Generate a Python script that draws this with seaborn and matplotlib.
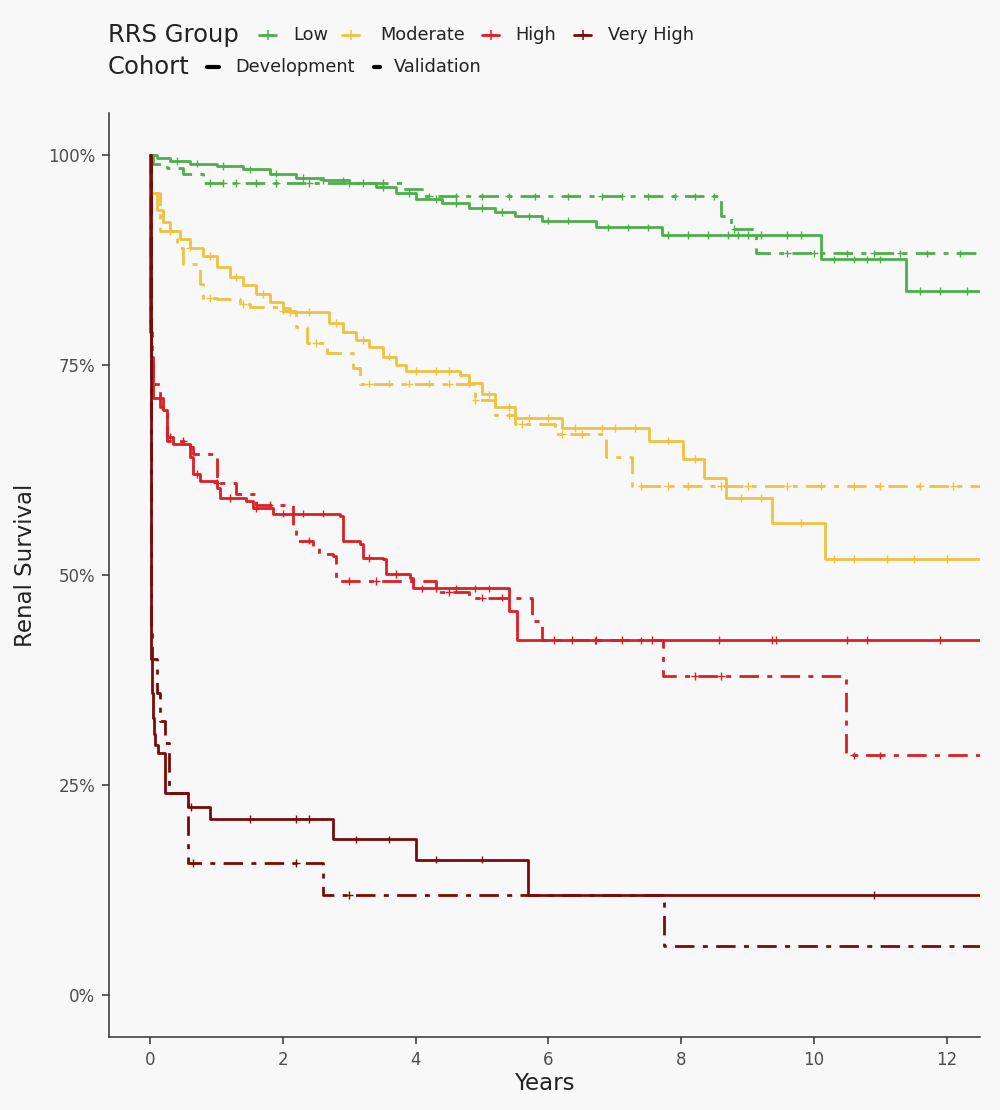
import numpy as np
import pandas as pd
import matplotlib
matplotlib.use("Agg")
import matplotlib.pyplot as plt
from matplotlib.lines import Line2D
from matplotlib.ticker import PercentFormatter
import seaborn as sns

# Kaplan-Meier step points (years, survival)
t_end = 12.5

low_dev_t = [0, 0.1, 0.3, 0.6, 1.0, 1.4, 1.8, 2.2, 2.6, 3.0, 3.4, 3.7, 4.0, 4.4, 4.8, 5.2, 5.5, 5.9, 6.72, 7.71, 10.1, 11.38]
low_dev_s = [1.0, 0.997, 0.993, 0.99, 0.987, 0.983, 0.978, 0.973, 0.97, 0.967, 0.962, 0.955, 0.948, 0.943, 0.937, 0.932, 0.927, 0.922, 0.914, 0.905, 0.876, 0.838]
low_val_t = [0, 0.05, 0.25, 0.5, 0.8, 3.8, 4.1, 8.6, 8.75, 9.13]
low_val_s = [1.0, 0.99, 0.985, 0.978, 0.967, 0.96, 0.951, 0.928, 0.912, 0.883]

mod_dev_t = [0, 0.01, 0.1, 0.2, 0.3, 0.45, 0.6, 0.8, 1.0, 1.2, 1.4, 1.6, 1.8, 2.0, 2.1, 2.7, 2.9, 3.1, 3.3, 3.5, 3.7, 3.85, 4.66, 4.8, 5.0, 5.2, 5.5, 6.2, 7.52, 8.02, 8.35, 8.68, 9.37, 10.17]
mod_dev_s = [1.0, 0.955, 0.935, 0.92, 0.91, 0.90, 0.89, 0.88, 0.867, 0.855, 0.845, 0.835, 0.825, 0.818, 0.813, 0.80, 0.79, 0.78, 0.772, 0.76, 0.75, 0.743, 0.738, 0.729, 0.715, 0.70, 0.687, 0.675, 0.66, 0.638, 0.615, 0.592, 0.562, 0.519]
mod_val_t = [0, 0.01, 0.15, 0.4, 0.5, 0.75, 0.8, 1.0, 1.35, 1.5, 1.95, 2.2, 2.36, 2.66, 3.05, 3.16, 4.9, 5.2, 5.5, 6.1, 6.87, 7.26]
mod_val_s = [1.0, 0.955, 0.91, 0.89, 0.871, 0.847, 0.83, 0.829, 0.823, 0.819, 0.815, 0.795, 0.776, 0.764, 0.747, 0.728, 0.708, 0.69, 0.68, 0.668, 0.64, 0.606]

high_dev_t = [0, 0.005, 0.02, 0.05, 0.2, 0.25, 0.35, 0.6, 0.65, 0.75, 1.0, 1.05, 1.45, 1.55, 1.85, 2.86, 2.9, 3.16, 3.2, 3.5, 3.56, 3.91, 3.96, 5.41, 5.53]
high_dev_s = [1.0, 0.80, 0.76, 0.711, 0.696, 0.664, 0.656, 0.64, 0.62, 0.612, 0.604, 0.592, 0.588, 0.58, 0.573, 0.570, 0.541, 0.537, 0.52, 0.519, 0.501, 0.496, 0.484, 0.457, 0.4225]
high_val_t = [0, 0.005, 0.03, 0.05, 0.15, 0.25, 0.6, 0.65, 1.0, 1.3, 1.6, 2.15, 2.2, 2.45, 2.55, 2.75, 2.8, 4.3, 4.8, 5.75, 5.9, 7.72, 10.48]
high_val_s = [1.0, 0.79, 0.75, 0.728, 0.70, 0.66, 0.652, 0.644, 0.61, 0.596, 0.583, 0.556, 0.541, 0.535, 0.525, 0.523, 0.493, 0.48, 0.473, 0.445, 0.422, 0.38, 0.285]

vh_dev_t = [0, 0.01, 0.03, 0.05, 0.06, 0.075, 0.12, 0.23, 0.57, 0.9, 2.75, 4.0, 5.69]
vh_dev_s = [1.0, 0.40, 0.36, 0.33, 0.31, 0.298, 0.288, 0.24, 0.224, 0.209, 0.185, 0.161, 0.119]
vh_val_t = [0, 0.01, 0.03, 0.1, 0.15, 0.23, 0.28, 0.57, 2.6, 7.74]
vh_val_s = [1.0, 0.44, 0.40, 0.36, 0.326, 0.30, 0.24, 0.157, 0.119, 0.058]

# censoring times (years)
low_dev_c = [0.4, 0.7, 1.1, 1.5, 1.9, 2.3, 2.6, 2.9, 3.2, 3.5, 3.9, 4.3, 4.6, 5.0, 5.3, 5.7, 6.0, 6.3, 6.9, 7.2, 7.5, 7.8, 8.1, 8.4, 8.7, 8.85, 9.0, 9.2, 9.6, 9.8, 10.3, 10.6, 10.8, 11.0, 11.6, 11.9, 12.3]
low_val_c = [0.9, 1.1, 1.3, 1.6, 1.9, 2.4, 3.0, 3.5, 4.2, 4.6, 5.0, 5.4, 5.8, 6.3, 6.8, 7.1, 7.5, 7.9, 8.2, 8.5, 8.8, 9.6, 10.0, 10.5, 10.9, 11.3, 11.7, 12.2]
mod_dev_c = [0.3, 0.6, 0.9, 1.3, 1.7, 2.1, 2.4, 2.8, 3.2, 3.6, 4.0, 4.3, 4.5, 4.8, 5.1, 5.4, 5.7, 6.0, 6.4, 6.8, 7.0, 7.3, 7.8, 8.2, 8.9, 9.2, 9.8, 10.3, 10.6, 11.1, 11.5, 12.0]
mod_val_c = [0.9, 1.4, 2.0, 2.5, 3.3, 3.6, 3.9, 4.2, 4.5, 4.9, 5.4, 5.6, 6.2, 6.5, 7.4, 7.8, 8.1, 8.6, 9.0, 9.6, 10.1, 10.6, 11.0, 11.6, 12.1]
high_dev_c = [0.3, 0.7, 1.2, 1.6, 2.0, 2.3, 2.6, 3.3, 3.7, 4.1, 4.3, 4.6, 4.9, 5.1, 6.09, 6.36, 6.72, 7.11, 7.56, 8.57, 9.37, 9.42, 10.5, 10.8, 11.9]
high_val_c = [0.5, 1.0, 1.8, 2.4, 3.0, 3.4, 4.5, 5.0, 5.3, 6.7, 7.4, 8.2, 8.6, 10.6, 11.0]
vh_dev_c = [0.62, 1.5, 2.2, 2.4, 3.1, 3.6, 4.3, 5.0, 10.9]
vh_val_c = [0.65, 2.2, 3.0]

groups = ["Low", "Moderate", "High", "Very High"]
cohorts = ["Development", "Validation"]
colors = ["#4DAF4A", "#EFC23F", "#DC1F26", "#7A0B0B"]

curves = [
    ("Low", "Development", low_dev_t, low_dev_s, low_dev_c),
    ("Low", "Validation", low_val_t, low_val_s, low_val_c),
    ("Moderate", "Development", mod_dev_t, mod_dev_s, mod_dev_c),
    ("Moderate", "Validation", mod_val_t, mod_val_s, mod_val_c),
    ("High", "Development", high_dev_t, high_dev_s, high_dev_c),
    ("High", "Validation", high_val_t, high_val_s, high_val_c),
    ("Very High", "Development", vh_dev_t, vh_dev_s, vh_dev_c),
    ("Very High", "Validation", vh_val_t, vh_val_s, vh_val_c),
]

rows, cens = [], []
for g, c, t, s, ct in curves:
    for ti, si in zip(t + [t_end], s + [s[-1]]):
        rows.append({"group": g, "cohort": c, "curve": g + c, "years": ti, "surv": si})
    t_arr, s_arr = np.array(t), np.array(s)
    for x in ct:
        cens.append({"group": g, "cohort": c, "years": x,
                     "surv": s_arr[np.searchsorted(t_arr, x, side="right") - 1]})
df = pd.DataFrame(rows)
cens_df = pd.DataFrame(cens)

sns.set_style("ticks")
bg = "#F8F8F8"
plt.rcParams.update({
    "font.family": ["DejaVu Sans"],
    "figure.facecolor": bg,
    "axes.facecolor": bg,
    "savefig.facecolor": bg,
})

fig = plt.figure(figsize=(10, 11.1), dpi=100)
ax = fig.add_axes([0.109, 0.066, 0.871, 0.832])

pal = dict(zip(groups, colors))
val_dash = (7, 3, 1.8, 3)
sns.lineplot(data=df, x="years", y="surv", hue="group", style="cohort",
             units="curve", estimator=None, sort=False,
             hue_order=groups, style_order=cohorts, palette=pal,
             dashes={"Development": "", "Validation": val_dash},
             linewidth=2, drawstyle="steps-post", legend=False, ax=ax)
sns.scatterplot(data=cens_df, x="years", y="surv", hue="group", hue_order=groups,
                palette=pal, marker="+", s=30, linewidth=1.0, legend=False, ax=ax)

ax.set_xlim(-0.62, t_end)
ax.set_ylim(-0.05, 1.05)
ax.set_xticks([0, 2, 4, 6, 8, 10, 12])
ax.set_yticks([0, 0.25, 0.5, 0.75, 1.0])
ax.yaxis.set_major_formatter(PercentFormatter(1.0, decimals=0))
ax.tick_params(colors="#333333", labelcolor="#4D4D4D", labelsize=12,
               length=5, width=1.1, pad=5)
for side in ["top", "right"]:
    ax.spines[side].set_visible(False)
for side in ["left", "bottom"]:
    ax.spines[side].set_color("#333333")
    ax.spines[side].set_linewidth(1.1)
ax.set_xlabel("Years", fontsize=16.5, color="#222222")
ax.set_ylabel("Renal Survival", fontsize=16.5, color="#222222")
ax.xaxis.set_label_coords(0.5, -0.038)
ax.yaxis.set_label_coords(-0.083, 0.51)

# legend rows, placed by hand like the ggplot top legend
W, H = 1000, 1110
y1 = 1 - 35 / H
y2 = 1 - 67 / H
fig.text(108 / W, y1, "RRS Group", fontsize=17.5, va="center", color="#222222")
fig.text(108 / W, y2, "Cohort", fontsize=17.5, va="center", color="#222222")

key_x = [259, 342, 482, 574]
text_x = [293, 380, 515, 608]
for kx, tx, lab, col in zip(key_x, text_x, groups, colors):
    fig.add_artist(Line2D([kx / W, (kx + 17) / W], [y1, y1], color=col, lw=2,
                          transform=fig.transFigure))
    fig.add_artist(Line2D([(kx + 8.5) / W], [y1], color=col, marker="+", ms=7,
                          mew=1.1, transform=fig.transFigure))
    fig.text(tx / W, y1, lab, fontsize=12.8, va="center", color="#222222")

fig.add_artist(Line2D([207 / W, 219 / W], [y2, y2], color="black", lw=3,
                      transform=fig.transFigure))
fig.text(235 / W, y2, "Development", fontsize=12.8, va="center", color="#222222")
fig.add_artist(Line2D([374 / W, 380 / W], [y2, y2], color="black", lw=3,
                      transform=fig.transFigure))
fig.text(394 / W, y2, "Validation", fontsize=12.8, va="center", color="#222222")

fig.savefig("out.png", dpi=100)
